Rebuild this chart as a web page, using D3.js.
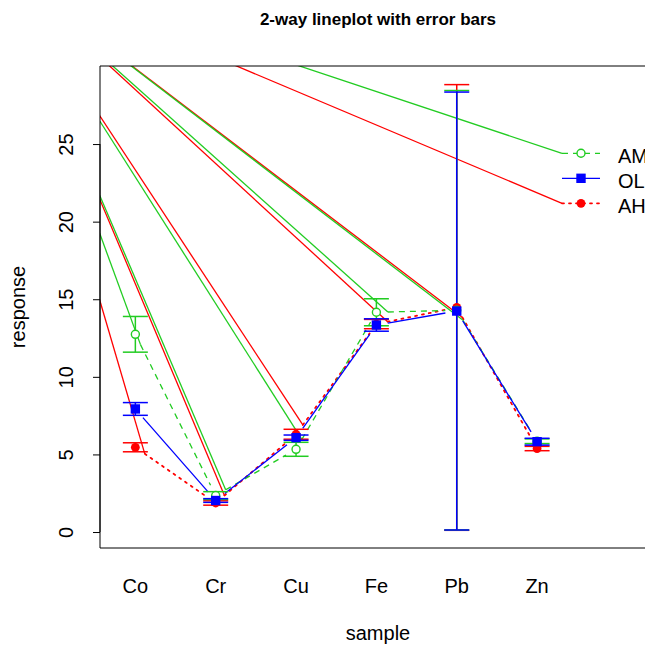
<!DOCTYPE html>
<html>
<head>
<meta charset="utf-8">
<script src="https://cdn.jsdelivr.net/npm/d3@7"></script>
<style>
  body { margin: 0; background: #fff; }
  svg { display: block; font-family: "Liberation Sans", Arial, sans-serif; }
</style>
</head>
<body>
<div id="root"></div>
<script>
// ---------------------------- DATA ----------------------------
const categories = ["Co", "Cr", "Cu", "Fe", "Pb", "Zn"];
const groupNames = ["AH", "AM", "OL"];          // drawing order
const legendNames = ["AM", "OL", "AH"];         // legend order

const amMean = [12.74, 2.35, 5.33, 14.16, 14.29, 5.85];
const amErr  = [1.15, 0.25, 0.45, 0.87, 14.16, 0.15];
const olMean = [7.93, 2.03, 6.08, 13.34, 14.24, 5.82];
const olErr  = [0.41, 0.12, 0.17, 0.40, 14.11, 0.22];
const ahMean = [5.46, 1.87, 6.30, 13.40, 14.47, 5.38];
const ahErr  = [0.29, 0.14, 0.32, 0.30, 14.36, 0.14];

const yTicks = [0, 5, 10, 15, 20, 25];

// ---------------------------- CONFIG ----------------------------
const width = 645;
const height = 646;
const box = { left: 100, top: 66, right: 656, bottom: 548 };
const capHalf = 12.5;
const gap = 11.5;             // type="b" gap around points
const strayOrigin = [2, -33]; // where the broken dashed paths start from

const styles = {
    AM: { color: "#22cc22", dash: "6,5", pch: "open" },
    OL: { color: "#0000ff", dash: null, pch: "square" },
    AH: { color: "#ff0000", dash: "2,5", pch: "dot" }
};
const series = {
    AM: { mean: amMean, err: amErr },
    OL: { mean: olMean, err: olErr },
    AH: { mean: ahMean, err: ahErr }
};

const x = d3.scaleLinear().domain([0.56, 7.48]).range([box.left, box.right]);
const y = d3.scaleLinear().domain([-1.03, 30.03]).range([box.bottom, box.top]);

const svg = d3.select("#root").append("svg")
    .attr("width", width)
    .attr("height", height);

svg.append("clipPath").attr("id", "plotClip")
    .append("rect")
    .attr("x", box.left).attr("y", box.top)
    .attr("width", box.right - box.left).attr("height", box.bottom - box.top);

const plot = svg.append("g").attr("clip-path", "url(#plotClip)");

// shortened segment between two points (R type "b")
function gapped(p, q) {
    const dx = q[0] - p[0], dy = q[1] - p[1];
    const len = Math.hypot(dx, dy);
    if (len <= 2 * gap) return null;
    const ux = dx / len, uy = dy / len;
    return [[p[0] + ux * gap, p[1] + uy * gap], [q[0] - ux * gap, q[1] - uy * gap]];
}

// legend rows
const legendX = [562, 600];
const legendY = d3.scalePoint().domain(legendNames).range([153.3, 203.3]);

// ---------------------------- LINES ----------------------------
groupNames.forEach(g => {
    const st = styles[g];
    const pts = series[g].mean.map((m, i) => [x(i + 1), y(m)]);
    const segs = [];
    for (let i = 0; i < pts.length - 1; i++) {
        const s = gapped(pts[i], pts[i + 1]);
        if (s) segs.push(s);
    }
    const legendSeg = [[legendX[0], legendY(g)], [legendX[1], legendY(g)]];

    // dashed series lose their moveTo: a solid line runs from the origin to each segment start
    if (st.dash) {
        segs.concat([legendSeg]).forEach(s => {
            plot.append("line")
                .attr("x1", strayOrigin[0]).attr("y1", strayOrigin[1])
                .attr("x2", s[0][0]).attr("y2", s[0][1])
                .attr("stroke", st.color)
                .attr("stroke-width", 1.3);
        });
    }

    segs.concat([legendSeg]).forEach(s => {
        plot.append("line")
            .attr("x1", s[0][0]).attr("y1", s[0][1])
            .attr("x2", s[1][0]).attr("y2", s[1][1])
            .attr("stroke", st.color)
            .attr("stroke-width", st.dash === "2,5" ? 1.8 : 1.3)
            .attr("stroke-linecap", st.dash === "2,5" ? "round" : "butt")
            .attr("stroke-dasharray", st.dash);
    });
});

// ---------------------------- ERROR BARS ----------------------------
groupNames.forEach(g => {
    const st = styles[g];
    const eb = plot.append("g").attr("stroke", st.color).attr("stroke-width", 1.5);
    series[g].mean.forEach((m, i) => {
        const cx = x(i + 1);
        const lo = y(m - series[g].err[i]);
        const hi = y(m + series[g].err[i]);
        eb.append("line").attr("x1", cx).attr("x2", cx).attr("y1", lo).attr("y2", hi);
        eb.append("line").attr("x1", cx - capHalf).attr("x2", cx + capHalf).attr("y1", lo).attr("y2", lo);
        eb.append("line").attr("x1", cx - capHalf).attr("x2", cx + capHalf).attr("y1", hi).attr("y2", hi);
    });
});

// ---------------------------- POINTS ----------------------------
function drawPoint(parent, g, px, py) {
    const st = styles[g];
    if (st.pch === "open") {
        parent.append("circle").attr("cx", px).attr("cy", py).attr("r", 4)
            .attr("fill", "white").attr("stroke", st.color).attr("stroke-width", 1.4);
    } else if (st.pch === "square") {
        parent.append("rect").attr("x", px - 4.7).attr("y", py - 4.7)
            .attr("width", 9.4).attr("height", 9.4).attr("fill", st.color);
    } else {
        parent.append("circle").attr("cx", px).attr("cy", py).attr("r", 4.4)
            .attr("fill", st.color);
    }
}

groupNames.forEach(g => {
    series[g].mean.forEach((m, i) => drawPoint(plot, g, x(i + 1), y(m)));
    drawPoint(plot, g, (legendX[0] + legendX[1]) / 2, legendY(g));
});

// legend labels (run past the right edge, as in the original)
svg.selectAll(".legendText")
    .data(legendNames)
    .enter()
    .append("text")
    .attr("class", "legendText")
    .attr("x", 618)
    .attr("y", d => legendY(d) + 10)
    .attr("font-size", 20)
    .text(d => d);

// ---------------------------- AXES ----------------------------
svg.append("path")
    .attr("d", `M${box.right},${box.top}H${box.left}V${box.bottom}H${box.right}`)
    .attr("fill", "none")
    .attr("stroke", "black")
    .attr("stroke-width", 1);

const yAxis = d3.axisLeft(y).tickValues(yTicks).tickSize(7).tickSizeOuter(0).tickPadding(0);
const yg = svg.append("g").attr("transform", `translate(${box.left},0)`).call(yAxis);
yg.select(".domain").attr("d", `M0,${y(yTicks[0])}V${y(yTicks[yTicks.length - 1])}`);
yg.selectAll(".tick text")
    .attr("font-size", 20)
    .attr("font-family", "Liberation Sans, Arial, sans-serif")
    .attr("fill", "black")
    .attr("dy", null)
    .attr("x", null)
    .attr("y", 0)
    .attr("text-anchor", "middle")
    .attr("transform", "translate(-27,0) rotate(-90)");

svg.selectAll(".xlab")
    .data(categories)
    .enter()
    .append("text")
    .attr("class", "xlab")
    .attr("x", (d, i) => x(i + 1))
    .attr("y", 593)
    .attr("text-anchor", "middle")
    .attr("font-size", 20)
    .text(d => d);

svg.append("text")
    .attr("x", (box.left + box.right) / 2)
    .attr("y", 640)
    .attr("text-anchor", "middle")
    .attr("font-size", 20)
    .text("sample");

svg.append("text")
    .attr("transform", `translate(25,${(box.top + box.bottom) / 2}) rotate(-90)`)
    .attr("text-anchor", "middle")
    .attr("font-size", 20)
    .text("response");

svg.append("text")
    .attr("x", (box.left + box.right) / 2)
    .attr("y", 25)
    .attr("text-anchor", "middle")
    .attr("font-size", 17)
    .attr("font-weight", "bold")
    .text("2-way lineplot with error bars");
</script>
</body>
</html>
